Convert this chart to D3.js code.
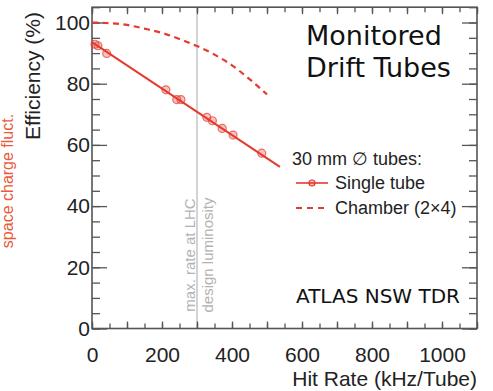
<!DOCTYPE html>
<html>
<head>
<meta charset="utf-8">
<script src="https://cdn.jsdelivr.net/npm/d3@7"></script>
<style>
  html, body { margin: 0; padding: 0; background: #fff; }
  svg { display: block; }
  text { font-family: "Liberation Sans", Arial, Helvetica, sans-serif; }
  text.dv { font-family: "DejaVu Sans", "Noto Sans", sans-serif; }
</style>
</head>
<body>
<svg id="chart" width="493" height="391"></svg>
<script>
// ---- data ----
const singleRate = [8.6, 17, 42, 211, 242, 254, 328, 344, 372, 403, 485];
const singleEff  = [92.9, 92.4, 89.9, 78.0, 74.8, 74.8, 69.0, 67.9, 65.4, 63.2, 57.3];
const fitRate = [0, 537];
const fitEff  = [93.6, 52.8];
const chamberRate = [0, 50, 100, 150, 200, 250, 300, 350, 400, 450, 500];
const chamberEff  = [100, 99.8, 99.2, 98.0, 96.6, 94.6, 92.3, 89.5, 86.0, 81.5, 76.5];
const xTickLabels = [0, 200, 400, 600, 800, 1000];
const yTickLabels = [0, 20, 40, 60, 80, 100];
const lhcRate = 300;

const red = "#e53a2f";
const svg = d3.select("#chart");
const L = 92, R = 477, T = 7.2, B = 328.5;
const x = d3.scaleLinear().domain([0, 1100]).range([L, R]);
const y = d3.scaleLinear().domain([0, 105]).range([B, T]);

// vertical LHC line
svg.append("line")
  .attr("x1", x(lhcRate)).attr("x2", x(lhcRate))
  .attr("y1", T).attr("y2", B)
  .attr("stroke", "#c9c9c9").attr("stroke-width", 1.6);

const grayText = svg.append("g").attr("fill", "#b3b3b3").attr("font-size", 15);
grayText.append("text")
  .attr("transform", `translate(${x(lhcRate) - 2},255) rotate(-90)`)
  .attr("text-anchor", "middle").text("max. rate at LHC");
grayText.append("text")
  .attr("transform", `translate(${x(lhcRate) + 16},255) rotate(-90)`)
  .attr("text-anchor", "middle").text("design luminosity");

// axes ticks (inward)
const tickStyle = g => { g.select(".domain").remove(); g.selectAll("line").attr("stroke", "#555").attr("stroke-width", 1.3); g.selectAll("text").remove(); };
const xMinor = d3.range(0, 1101, 50), xMajor = d3.range(0, 1101, 100);
const yMinor = d3.range(0, 106, 5), yMajor = d3.range(0, 101, 20);

svg.append("g").attr("transform", `translate(0,${B})`).call(d3.axisBottom(x).tickValues(xMinor).tickSize(-5)).call(tickStyle);
svg.append("g").attr("transform", `translate(0,${B})`).call(d3.axisBottom(x).tickValues(xMajor).tickSize(-7)).call(tickStyle);
svg.append("g").attr("transform", `translate(0,${T})`).call(d3.axisTop(x).tickValues(xMinor).tickSize(-5)).call(tickStyle);
svg.append("g").attr("transform", `translate(0,${T})`).call(d3.axisTop(x).tickValues(xMajor).tickSize(-7)).call(tickStyle);
svg.append("g").attr("transform", `translate(${L},0)`).call(d3.axisLeft(y).tickValues(yMinor).tickSize(-8)).call(tickStyle);
svg.append("g").attr("transform", `translate(${L},0)`).call(d3.axisLeft(y).tickValues(yMajor).tickSize(-15)).call(tickStyle);
svg.append("g").attr("transform", `translate(${R},0)`).call(d3.axisRight(y).tickValues(yMinor).tickSize(-8)).call(tickStyle);
svg.append("g").attr("transform", `translate(${R},0)`).call(d3.axisRight(y).tickValues(yMajor).tickSize(-15)).call(tickStyle);

// frame
svg.append("rect").attr("x", L).attr("y", T).attr("width", R - L).attr("height", B - T)
  .attr("fill", "none").attr("stroke", "#555").attr("stroke-width", 1.6);

// tick labels
const xl = svg.append("g").attr("transform", `translate(0,${B})`)
  .call(d3.axisBottom(x).tickValues(xTickLabels).tickFormat(d3.format("d")).tickSize(0).tickPadding(19));
xl.select(".domain").remove();
xl.selectAll("text").attr("font-size", 21).attr("fill", "#222")
  .style("font-family", '"Liberation Sans", Arial, sans-serif');
const yl = svg.append("g").attr("transform", `translate(${L},0)`)
  .call(d3.axisLeft(y).tickValues(yTickLabels).tickFormat(d3.format("d")).tickSize(0).tickPadding(2));
yl.select(".domain").remove();
yl.selectAll("text").attr("font-size", 21).attr("fill", "#222")
  .style("font-family", '"Liberation Sans", Arial, sans-serif');

// axis titles
svg.append("text").attr("x", R).attr("y", 386).attr("text-anchor", "end")
  .attr("font-size", 21).attr("fill", "#222").text("Hit Rate (kHz/Tube)");
svg.append("text").attr("transform", "translate(40,76) rotate(-90)")
  .attr("text-anchor", "middle").attr("font-size", 21).attr("fill", "#222").text("Efficiency (%)");
svg.append("text").attr("transform", "translate(13,181) rotate(-90)")
  .attr("text-anchor", "middle").attr("font-size", 16).attr("fill", "#ea5a3c").text("space charge fluct.");

// chamber dashed curve
const chamber = chamberRate.map((r, i) => [r, chamberEff[i]]);
svg.append("path").datum(chamber)
  .attr("d", d3.line().x(d => x(d[0])).y(d => y(d[1])).curve(d3.curveMonotoneX))
  .attr("fill", "none").attr("stroke", red).attr("stroke-width", 2.2).attr("stroke-dasharray", "6,4.5");

// single tube fit line
const fit = fitRate.map((r, i) => [r, fitEff[i]]);
svg.append("path").datum(fit)
  .attr("d", d3.line().x(d => x(d[0])).y(d => y(d[1])))
  .attr("fill", "none").attr("stroke", red).attr("stroke-width", 2);

// single tube markers
const pts = singleRate.map((r, i) => [r, singleEff[i]]);
svg.append("g").selectAll("circle").data(pts).join("circle")
  .attr("cx", d => x(d[0])).attr("cy", d => y(d[1])).attr("r", 4)
  .attr("fill", "rgba(229,58,47,0.3)").attr("stroke", "rgba(229,58,47,0.7)").attr("stroke-width", 1.2);

// legend
const lg = svg.append("g").attr("font-size", 18).attr("fill", "#222");
lg.append("text").attr("x", 292).attr("y", 165).text("30 mm \u2205 tubes:");
lg.append("line").attr("x1", 296).attr("x2", 328).attr("y1", 183).attr("y2", 183)
  .attr("stroke", red).attr("stroke-width", 1.6);
lg.append("circle").attr("cx", 312).attr("cy", 183).attr("r", 3)
  .attr("fill", "rgba(229,58,47,0.3)").attr("stroke", red).attr("stroke-width", 1.2);
lg.append("text").attr("x", 335).attr("y", 189).text("Single tube");
lg.append("line").attr("x1", 296).attr("x2", 326).attr("y1", 208).attr("y2", 208)
  .attr("stroke", red).attr("stroke-width", 1.8).attr("stroke-dasharray", "6,5");
lg.append("text").attr("x", 335).attr("y", 214).text("Chamber (2\u00d74)");

// title & tag
const tt = svg.append("g").attr("fill", "#111");
tt.append("text").attr("class", "dv").attr("x", 306).attr("y", 45).attr("font-size", 27).text("Monitored");
tt.append("text").attr("class", "dv").attr("x", 306).attr("y", 77).attr("font-size", 27).text("Drift Tubes");
tt.append("text").attr("class", "dv").attr("x", 296).attr("y", 303).attr("font-size", 20).text("ATLAS NSW TDR");
</script>
</body>
</html>
